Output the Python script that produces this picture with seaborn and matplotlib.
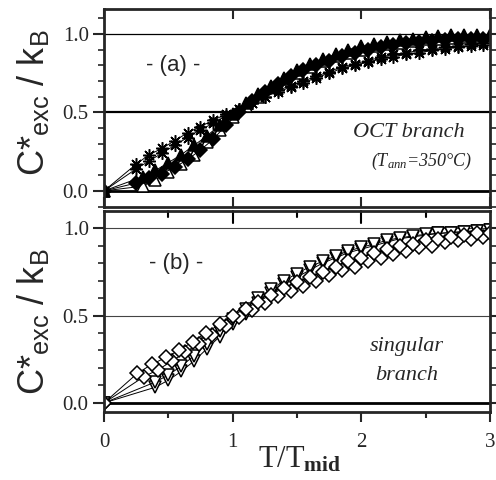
import numpy as np
import pandas as pd
import matplotlib
matplotlib.use("Agg")
import matplotlib.pyplot as plt
import seaborn as sns
from matplotlib.ticker import MultipleLocator

# ---- data (T/Tmid, C*exc/kB) ----
# panel (a): OCT branch
x_a1 = [0, 0.25, 0.35, 0.45, 0.55, 0.65, 0.75, 0.85, 0.95, 1.05, 1.15, 1.25, 1.35, 1.45,
        1.55, 1.65, 1.75, 1.85, 1.95, 2.05, 2.15, 2.25, 2.35, 2.45, 2.55, 2.65, 2.75, 2.85, 2.95]
star_a = [0, 0.17, 0.23, 0.27, 0.32, 0.37, 0.41, 0.45, 0.49, 0.52, 0.56, 0.60, 0.63, 0.66,
          0.69, 0.72, 0.75, 0.78, 0.80, 0.82, 0.84, 0.855, 0.87, 0.88, 0.895, 0.905, 0.915, 0.925, 0.93]
fdiam_a = [0, 0.05, 0.08, 0.11, 0.15, 0.20, 0.26, 0.33, 0.42, 0.50, 0.57, 0.63, 0.68, 0.73,
           0.77, 0.80, 0.83, 0.86, 0.88, 0.90, 0.915, 0.93, 0.94, 0.95, 0.955, 0.96, 0.965, 0.97, 0.97]
x_a2 = [0, 0.3, 0.4, 0.5, 0.6, 0.7, 0.8, 0.9, 1.0, 1.1, 1.2, 1.3, 1.4, 1.5, 1.6,
        1.7, 1.8, 1.9, 2.0, 2.1, 2.2, 2.3, 2.4, 2.5, 2.6, 2.7, 2.8, 2.9, 3.0]
ftri_a = [0, 0.09, 0.13, 0.18, 0.23, 0.29, 0.35, 0.42, 0.49, 0.56, 0.62, 0.67, 0.72, 0.77, 0.81,
          0.84, 0.87, 0.90, 0.92, 0.935, 0.95, 0.96, 0.97, 0.98, 0.985, 0.99, 0.99, 0.995, 0.995]
otri_a = [0, 0.03, 0.07, 0.12, 0.17, 0.23, 0.31, 0.39, 0.47, 0.54, 0.60, 0.66, 0.71, 0.75, 0.79,
          0.83, 0.86, 0.88, 0.90, 0.92, 0.935, 0.945, 0.955, 0.965, 0.97, 0.975, 0.98, 0.98, 0.985]
star2_a = [0, 0.14, 0.19, 0.24, 0.29, 0.34, 0.39, 0.43, 0.48, 0.52, 0.56, 0.60, 0.64, 0.67, 0.70,
           0.73, 0.76, 0.79, 0.81, 0.83, 0.85, 0.87, 0.88, 0.895, 0.905, 0.915, 0.925, 0.935, 0.94]

# panel (b): singular branch
x_b1 = [0, 0.26, 0.37, 0.48, 0.58, 0.69, 0.79, 0.90, 1.0, 1.1, 1.2, 1.3, 1.4, 1.5, 1.6,
        1.7, 1.8, 1.9, 2.0, 2.1, 2.2, 2.3, 2.4, 2.5, 2.6, 2.7, 2.8, 2.9, 3.0]
odiam_b = [0, 0.17, 0.22, 0.26, 0.30, 0.35, 0.40, 0.45, 0.50, 0.54, 0.58, 0.62, 0.66, 0.69, 0.72,
           0.75, 0.78, 0.81, 0.83, 0.86, 0.88, 0.90, 0.91, 0.93, 0.94, 0.95, 0.96, 0.97, 0.975]
x_b2 = [0, 0.31, 0.42, 0.53, 0.63, 0.74, 0.84, 0.95, 1.05, 1.15, 1.25, 1.35, 1.45, 1.55, 1.65,
        1.75, 1.85, 1.95, 2.05, 2.15, 2.25, 2.35, 2.45, 2.55, 2.65, 2.75, 2.85, 2.95]
odiam2_b = [0, 0.15, 0.19, 0.24, 0.29, 0.34, 0.39, 0.44, 0.49, 0.53, 0.57, 0.61, 0.64, 0.67,
            0.70, 0.73, 0.76, 0.78, 0.81, 0.83, 0.85, 0.87, 0.89, 0.90, 0.92, 0.93, 0.94, 0.95]
x_b3 = [0, 0.4, 0.5, 0.6, 0.7, 0.8, 0.9, 1.0, 1.1, 1.2, 1.3, 1.4, 1.5, 1.6, 1.7, 1.8,
        1.9, 2.0, 2.1, 2.2, 2.3, 2.4, 2.5, 2.6, 2.7, 2.8, 2.9, 3.0]
dtri_b = [0, 0.09, 0.13, 0.18, 0.24, 0.31, 0.38, 0.45, 0.51, 0.57, 0.63, 0.68, 0.72, 0.76, 0.80,
          0.83, 0.86, 0.88, 0.90, 0.92, 0.94, 0.95, 0.96, 0.97, 0.975, 0.98, 0.985, 0.99]
dtri2_b = [0, 0.12, 0.16, 0.21, 0.27, 0.34, 0.41, 0.48, 0.54, 0.60, 0.65, 0.70, 0.74, 0.78, 0.81,
           0.84, 0.87, 0.89, 0.91, 0.93, 0.945, 0.955, 0.965, 0.97, 0.975, 0.98, 0.985, 0.99]

sns.set_style("ticks")
plt.rcParams["font.family"] = ["Liberation Serif", "DejaVu Serif"]
plt.rcParams["mathtext.fontset"] = "custom"
plt.rcParams["mathtext.rm"] = "Liberation Serif"
plt.rcParams["mathtext.it"] = "Liberation Serif:italic"
plt.rcParams["mathtext.bf"] = "Liberation Serif:bold"
plt.rcParams["mathtext.sf"] = "Liberation Sans"

fig = plt.figure(figsize=(4.96, 4.80), dpi=100)
ax1 = fig.add_axes([0.2097, 0.569, 0.778, 0.413])
ax2 = fig.add_axes([0.2097, 0.142, 0.778, 0.418])


def draw(ax, x, y, marker, filled, ms=6):
    sns.lineplot(x=x, y=y, ax=ax, color="black", lw=0.7, marker=marker, markersize=ms,
                 markerfacecolor="black" if filled else "white",
                 markeredgecolor="black", markeredgewidth=1.1,
                 sort=False, estimator=None)


draw(ax1, x_a1, star2_a, (8, 2, 0), True, 9)
draw(ax1, x_a2, otri_a, "^", False, 8)
draw(ax1, x_a1, fdiam_a, "D", True, 7)
draw(ax1, x_a2, ftri_a, "^", True, 8)
draw(ax1, x_a1, star_a, (8, 2, 0), True, 9)

draw(ax2, x_b3, dtri_b, "v", False, 8)
draw(ax2, x_b3, dtri2_b, "v", False, 8)
draw(ax2, x_b2, odiam2_b, "D", False, 7)
draw(ax2, x_b1, odiam_b, "D", False, 7)

ax1.axhline(0, color="black", lw=2, zorder=1)
ax1.axhline(0.5, color="black", lw=1.6, zorder=1)
ax1.axhline(1.0, color="black", lw=0.9, zorder=1)
ax2.axhline(0, color="black", lw=2, zorder=1)
ax2.axhline(0.5, color="#444444", lw=0.8, zorder=1)
ax2.axhline(1.0, color="#444444", lw=0.8, zorder=1)

ax1.set_ylim(-0.102, 1.161)
ax2.set_ylim(-0.051, 1.097)
for ax in (ax1, ax2):
    ax.set_xlim(0, 3)
    ax.set_xlabel("")
    ax.set_ylabel("")
    for s in ax.spines.values():
        s.set_visible(True)
        s.set_linewidth(2)
    ax.yaxis.set_major_locator(MultipleLocator(0.5))
    ax.yaxis.set_minor_locator(MultipleLocator(0.1))
    ax.xaxis.set_major_locator(MultipleLocator(1))
    ax.xaxis.set_minor_locator(MultipleLocator(0.5))
    ax.set_yticks([0, 0.5, 1.0])
    ax.set_yticklabels(["0.0", "0.5", "1.0"], fontsize=15)
    ax.tick_params(axis="y", which="major", direction="out", length=8, width=1.5,
                   left=True, right=True, labelleft=True, labelright=False, pad=3)
    ax.tick_params(axis="y", which="minor", direction="out", length=4, width=1.2,
                   left=True, right=True)

ax1.tick_params(axis="x", which="both", direction="in", top=True, bottom=True,
                labelbottom=False, width=1.5)
ax1.tick_params(axis="x", which="major", length=7)
ax1.tick_params(axis="x", which="minor", length=0)
ax2.tick_params(axis="x", which="both", direction="out", top=False, bottom=True, width=1.5)
ax2.tick_params(axis="x", which="major", length=7, labelsize=15, pad=8)
ax2.tick_params(axis="x", which="minor", length=4)
ax2.set_xticks([0, 1, 2, 3])
ax2.set_xticklabels(["0", "1", "2", "3"])
# inward ticks on top spine of panel (b)
for xv, ln in [(0.5, 0.035), (1, 0.07), (1.5, 0.035), (2, 0.07), (2.5, 0.035)]:
    ax2.plot([xv, xv], [1.097, 1.097 - ln], color="black", lw=1.5, clip_on=False)

ax1.text(0.54, 0.80, "- (a) -", fontsize=16, family="Liberation Sans", ha="center", va="center")
ax2.text(0.56, 0.80, "- (b) -", fontsize=16, family="Liberation Sans", ha="center", va="center")
ax1.text(2.37, 0.37, "OCT branch", fontsize=16, style="italic", ha="center", va="center")
ax1.text(2.47, 0.19, r"($T_{ann}$=350°C)", fontsize=13, style="italic", ha="center", va="center")
ax2.text(2.35, 0.32, "singular", fontsize=16, style="italic", ha="center", va="center")
ax2.text(2.35, 0.155, "branch", fontsize=16, style="italic", ha="center", va="center")

ylab = r"C*$_{\mathsf{exc}}$ / k$_{\mathsf{B}}$"
fig.text(0.07, 0.785, ylab, rotation=90, fontsize=26, family="Liberation Sans",
         ha="center", va="center")
fig.text(0.07, 0.33, ylab, rotation=90, fontsize=26, family="Liberation Sans",
         ha="center", va="center")
fig.text(0.605, 0.025, r"T/T$_{\mathbf{mid}}$", fontsize=22, ha="center", va="baseline")

fig.savefig("out.png", dpi=100)
